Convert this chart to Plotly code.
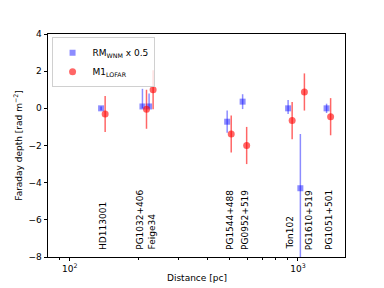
import math
import plotly.graph_objects as go

names = ["HD113001", "PG1032+406", "Feige34", "PG1544+488", "PG0952+519",
         "Ton102", "PG1610+519", "PG1051+501"]
dist_pc = [143, 217, 232, 510, 596, 943, 1067, 1390]

rm_wnm = [0.0, 0.1, 0.1, -0.72, 0.36, 0.0, -4.3, 0.0]
rm_wnm_err_plus = [0.1, 0.95, 0.7, 0.6, 0.4, 0.45, 2.92, 0.25]
rm_wnm_err_minus = [0.1, 0.1, 0.1, 0.6, 0.4, 0.3, 4.2, 0.25]

m1_lofar = [-0.3, -0.05, 1.0, -1.38, -2.0, -0.66, 0.88, -0.45]
m1_lofar_err = [0.97, 1.05, 1.05, 1.0, 1.0, 1.0, 1.0, 1.0]

label_shift = [-2, -6.5, -1.5, -1, -1.5, -2, 4, -1.5]

blue_offset = 0.96
blue_dist = [d * blue_offset for d in dist_pc]

BLUE = "rgba(0,0,255,0.45)"
RED = "rgba(255,0,0,0.6)"
FONT = "DejaVu Sans"

fig = go.Figure()
fig.add_trace(go.Scatter(
    x=blue_dist, y=rm_wnm, mode="markers",
    name="RM<sub>WNM</sub> x 0.5",
    marker=dict(symbol="square", size=6, color=BLUE, line=dict(width=0)),
    error_y=dict(type="data", symmetric=False, array=rm_wnm_err_plus,
                 arrayminus=rm_wnm_err_minus, color=BLUE, thickness=1.5, width=0),
))
fig.add_trace(go.Scatter(
    x=dist_pc, y=m1_lofar, mode="markers",
    name="M1<sub>LOFAR</sub>",
    marker=dict(symbol="circle", size=7, color=RED, line=dict(width=0)),
    error_y=dict(type="data", array=m1_lofar_err, color=RED, thickness=1.5, width=0),
))

for n, d, s in zip(names, dist_pc, label_shift):
    fig.add_annotation(x=math.log10(d), y=-7.72, xref="x", yref="y", text=n, showarrow=False,
                       textangle=-90, xanchor="center", yanchor="bottom", xshift=s,
                       font=dict(family=FONT, size=9, color="black"))

fig.add_annotation(x=0.5, y=0, xref="paper", yref="paper", text="Distance [pc]",
                   showarrow=False, xanchor="center", yanchor="top", yshift=-14,
                   font=dict(family=FONT, size=9, color="black"))

minor_vals = [90] + [v * 100 for v in range(2, 10)] + [1000 * v for v in range(2, 3)]

fig.update_layout(
    width=376, height=280,
    margin=dict(l=40, r=39, t=26, b=31, autoexpand=False),
    paper_bgcolor="white", plot_bgcolor="white",
    font=dict(family=FONT, size=9, color="black"),
    showlegend=True,
    legend=dict(x=0.012, y=0.985, xanchor="left", yanchor="top",
                bgcolor="rgba(255,255,255,0.8)", bordercolor="#d0d0d0", borderwidth=1,
                font=dict(family=FONT, size=9), itemwidth=30, tracegroupgap=0),
)
fig.update_xaxes(
    type="log", range=[1.905, 3.206], automargin=False,
    tickvals=[100, 1000], ticktext=["10<sup>2</sup>", "10<sup>3</sup>"],
    ticks="outside", ticklen=3.5, tickwidth=0.8, tickcolor="black",
    minor=dict(tickvals=minor_vals, ticks="outside", ticklen=2, tickwidth=0.6, tickcolor="black"),
    showgrid=False, zeroline=False,
    showline=True, linecolor="black", linewidth=0.8, mirror=True,
)
fig.update_yaxes(
    range=[-8, 4], tickvals=[-8, -6, -4, -2, 0, 2, 4], automargin=False,
    ticktext=["\u22128", "\u22126", "\u22124", "\u22122", "0", "2", "4"],
    ticks="outside", ticklen=3.5, tickwidth=0.8, tickcolor="black",
    showgrid=False, zeroline=False,
    showline=True, linecolor="black", linewidth=0.8, mirror=True,
    title=dict(text="Faraday depth [rad m<sup>\u22122</sup>]", font=dict(size=9), standoff=4),
)

fig.write_html("out.html")
